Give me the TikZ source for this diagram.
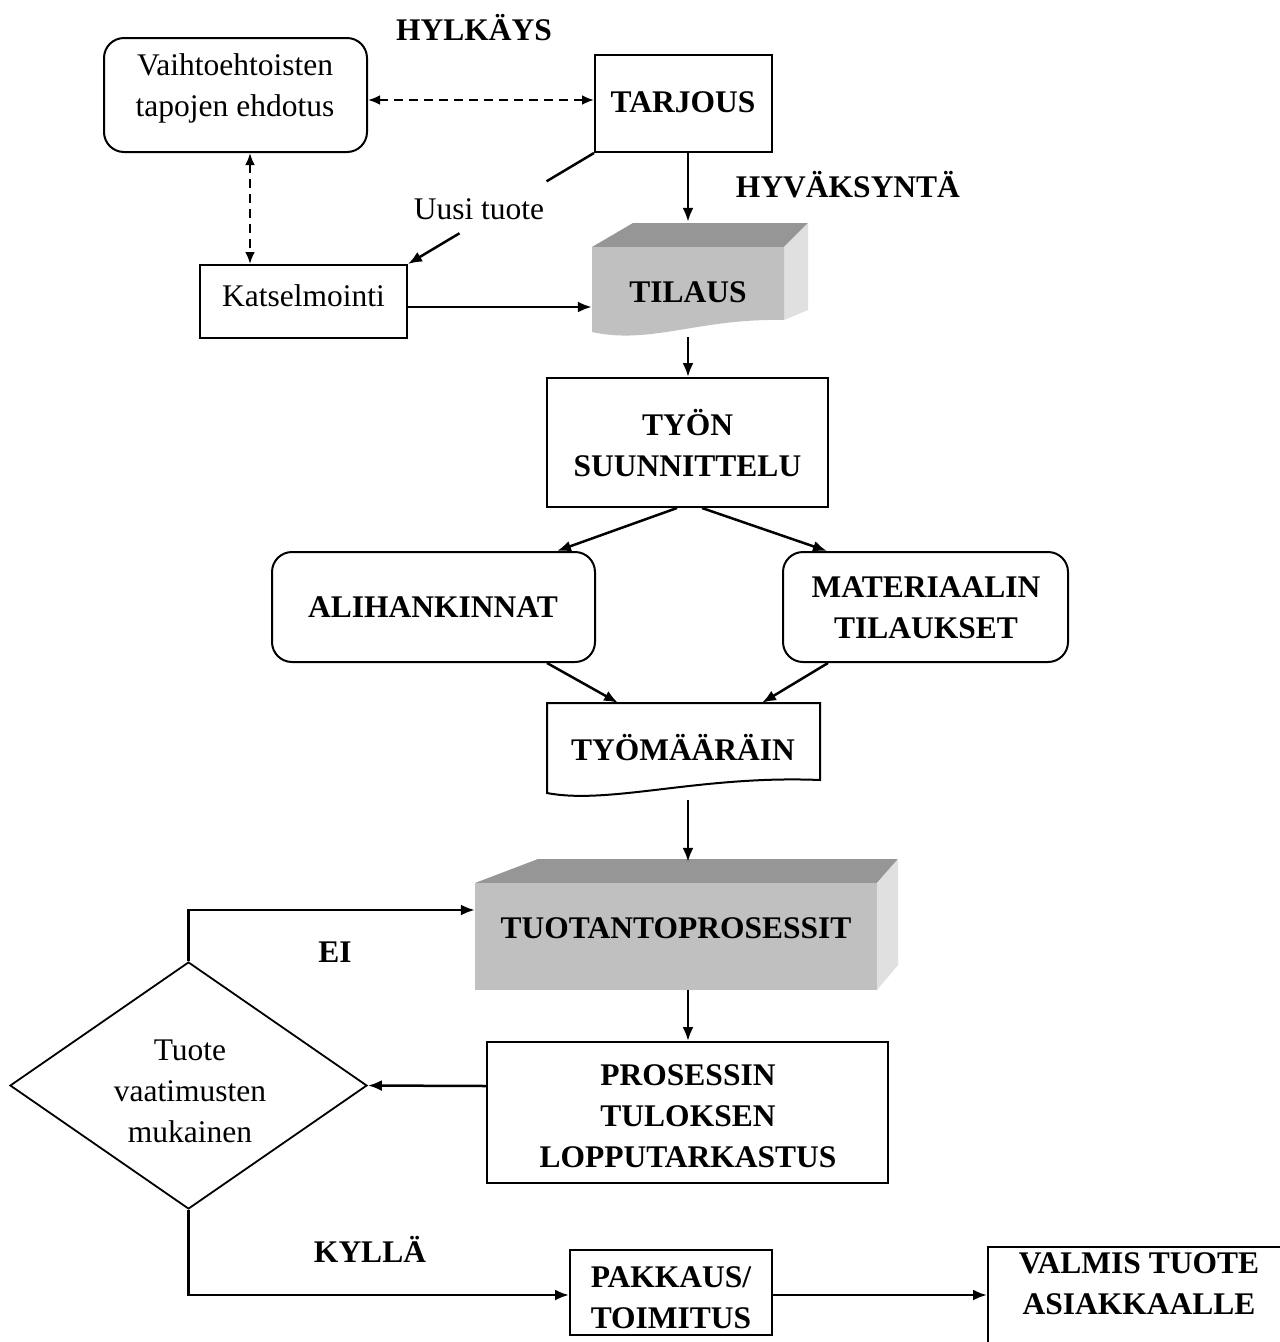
\documentclass[tikz,border=0pt]{standalone}
\usepackage{fontspec}
\setmainfont{Liberation Serif}
\usetikzlibrary{arrows.meta,calc,shapes.geometric}

\definecolor{frontgray}{RGB}{192,192,192}
\definecolor{topgray}{RGB}{150,150,150}
\definecolor{sidegray}{RGB}{224,224,224}

\tikzset{
  frame/.style={draw=black, line width=2pt, inner sep=0pt, fill=white},
  rframe/.style={frame, rounded corners=20pt},
  area/.style={inner sep=0pt},
  lbl/.style={font=\fontsize{31.5}{41}\selectfont, align=center, inner sep=0pt},
  blbl/.style={lbl, font=\fontsize{31.5}{41}\selectfont\bfseries},
  ln/.style={line width=2.5pt},
  arr/.style={ln, -{Latex[length=14pt,width=11pt]}},
  darr/.style={ln, dash pattern=on 9pt off 6pt,
    {Latex[length=12pt,width=10pt]}-{Latex[length=12pt,width=10pt]}}
}

\begin{document}
\begin{tikzpicture}[x=1pt,y=-1pt]
\useasboundingbox (0,0) rectangle (1280,1342);
\clip (0,0) rectangle (1280,1342);
\fill[white] (0,0) rectangle (1280,1342);

% --- upper part: offer, review and order
\node[rframe, minimum width=263, minimum height=114] (vaiht) at (235.5,95) {};
\node[lbl] (vaihtT) at (235,88) {Vaihtoehtoisten\\tapojen ehdotus};

\node[blbl] (hylk) at (474,27.5) {HYLKÄYS};

\node[frame, minimum width=177, minimum height=97] (tarjous) at (683.5,103.5) {};
\node[blbl] (tarjousT) at (683,102) {TARJOUS};

\node[lbl] (uusi) at (479,209) {Uusi tuote};
\node[blbl] (hyv) at (848,184.5) {HYVÄKSYNTÄ};

\node[frame, minimum width=207, minimum height=73] (kats) at (303.5,301.5) {};
\node[lbl] (katsT) at (303.5,296) {Katselmointi};

% order: shaded block with a wavy lower edge
\fill[topgray] (592,247) -- (633,223) -- (808,223) -- (784,247) -- cycle;
\fill[sidegray] (784,247) -- (808,223) -- (808,310) -- (784,320) -- cycle;
\fill[frontgray] (592,247) -- (784,247) -- (784,320)
  .. controls (700,318) and (650,345) .. (592,332) -- cycle;
\node[area, minimum width=192, minimum height=115] (tilaus) at (688,279.5) {};
\node[blbl] (tilausT) at (688,292) {TILAUS};

% --- planning and procurement
\node[frame, minimum width=281, minimum height=129] (tyon) at (687.5,442.5) {};
\node[blbl] (tyonT) at (687.5,443) {TYÖN\\SUUNNITTELU};

\node[rframe, minimum width=323, minimum height=110] (ali) at (433.5,607) {};
\node[blbl] (aliT) at (433,607) {ALIHANKINNAT};

\node[rframe, minimum width=285, minimum height=110] (mat) at (925.5,607) {};
\node[blbl] (matT) at (926,607.5) {MATERIAALIN\\TILAUKSET};

% work order document
\draw[line width=2pt, fill=white] (547,703) -- (820,703) -- (820,780)
  .. controls (700,775) and (610,805) .. (547,793) -- cycle;
\node[area, minimum width=273, minimum height=97] (tyom) at (683.5,751.5) {};
\node[blbl] (tyomT) at (683,747.5) {TYÖMÄÄRÄIN};

% production: shaded block
\fill[topgray] (475,883) -- (538,859) -- (898,859) -- (877,883) -- cycle;
\fill[sidegray] (877,883) -- (898,859) -- (898,965) -- (877,990) -- cycle;
\fill[frontgray] (475,883) rectangle (877,990);
\node[area, minimum width=402, minimum height=130] (tuot) at (676,925) {};
\node[blbl] (tuotT) at (676,928.5) {TUOTANTOPROSESSIT};

% --- inspection, decision and delivery
\node[frame, minimum width=401, minimum height=141] (pros) at (687.5,1112.5) {};
\node[blbl] (prosT) at (688,1116.5) {PROSESSIN\\TULOKSEN\\LOPPUTARKASTUS};

\node[diamond, draw, line width=1.8pt, inner sep=0pt,
      minimum width=357, minimum height=247] (dia) at (188.5,1085.5) {};
\node[lbl] (diaT) at (190,1091) {Tuote\\vaatimusten\\mukainen};

\node[blbl] (ei) at (335,952) {EI};
\node[blbl] (kylla) at (370,1249.5) {KYLLÄ};

\node[frame, minimum width=202, minimum height=85] (pakk) at (671,1292.5) {};
\node[blbl] (pakkT) at (671,1297.5) {PAKKAUS/\\TOIMITUS};

\node[frame, minimum width=312, minimum height=133] (valmis) at (1144,1313.5) {};
\node[blbl] (valmisT) at (1139,1284) {VALMIS TUOTE\\ASIAKKAALLE};

% --- connectors
\draw[darr] ($(vaiht.east)+(0,5)$) -- ($(tarjous.west)+(0,-3.5)$);
\draw[darr] ($(vaiht.south)+(14.5,0)$) -- ($(kats.north)+(-53.5,0)$);

\draw[ln] (tarjous.south west) -- ($(tarjous.south west)!0.255!(kats.north east)$);
\draw[arr] ($(tarjous.south west)!0.723!(kats.north east)$) -- (kats.north east);

\draw[arr] ($(tarjous.south)+(4.5,0)$) -- (tilaus.north);
\draw[arr] ($(kats.east)+(0,5.5)$) -- ($(tilaus.west)+(0,27.5)$);
\draw[arr] (tilaus.south) -- ($(tyon.north)+(0.5,0)$);

\draw[arr] ($(tyon.south)+(-10.5,0)$) -- ($(ali.north)+(123.5,0)$);
\draw[arr] ($(tyon.south)+(14.5,0)$) -- ($(mat.north)+(-98.5,0)$);
\draw[arr] ($(ali.south)+(113.5,0)$) -- ($(tyom.north)+(-65.5,0)$);
\draw[arr] ($(mat.south)+(-97.5,0)$) -- ($(tyom.north)+(78.5,0)$);

\draw[arr] ($(tyom.south)+(4.5,0)$) -- ($(tuot.north)+(12,2)$);
\draw[arr] ($(tuot.south)+(12,0)$) -- ($(pros.north)+(0.5,0)$);
\draw[arr] ($(pros.west)+(0,-26.5)$) -- (dia.east);

\draw[arr] (dia.north) |- ($(tuot.west)+(0,-15)$);
\draw[arr] (dia.south) |- ($(pakk.west)+(0,2.5)$);
\draw[arr] ($(pakk.east)+(0,2.5)$) -- ($(valmis.west)+(0,-18.5)$);
\end{tikzpicture}
\end{document}
